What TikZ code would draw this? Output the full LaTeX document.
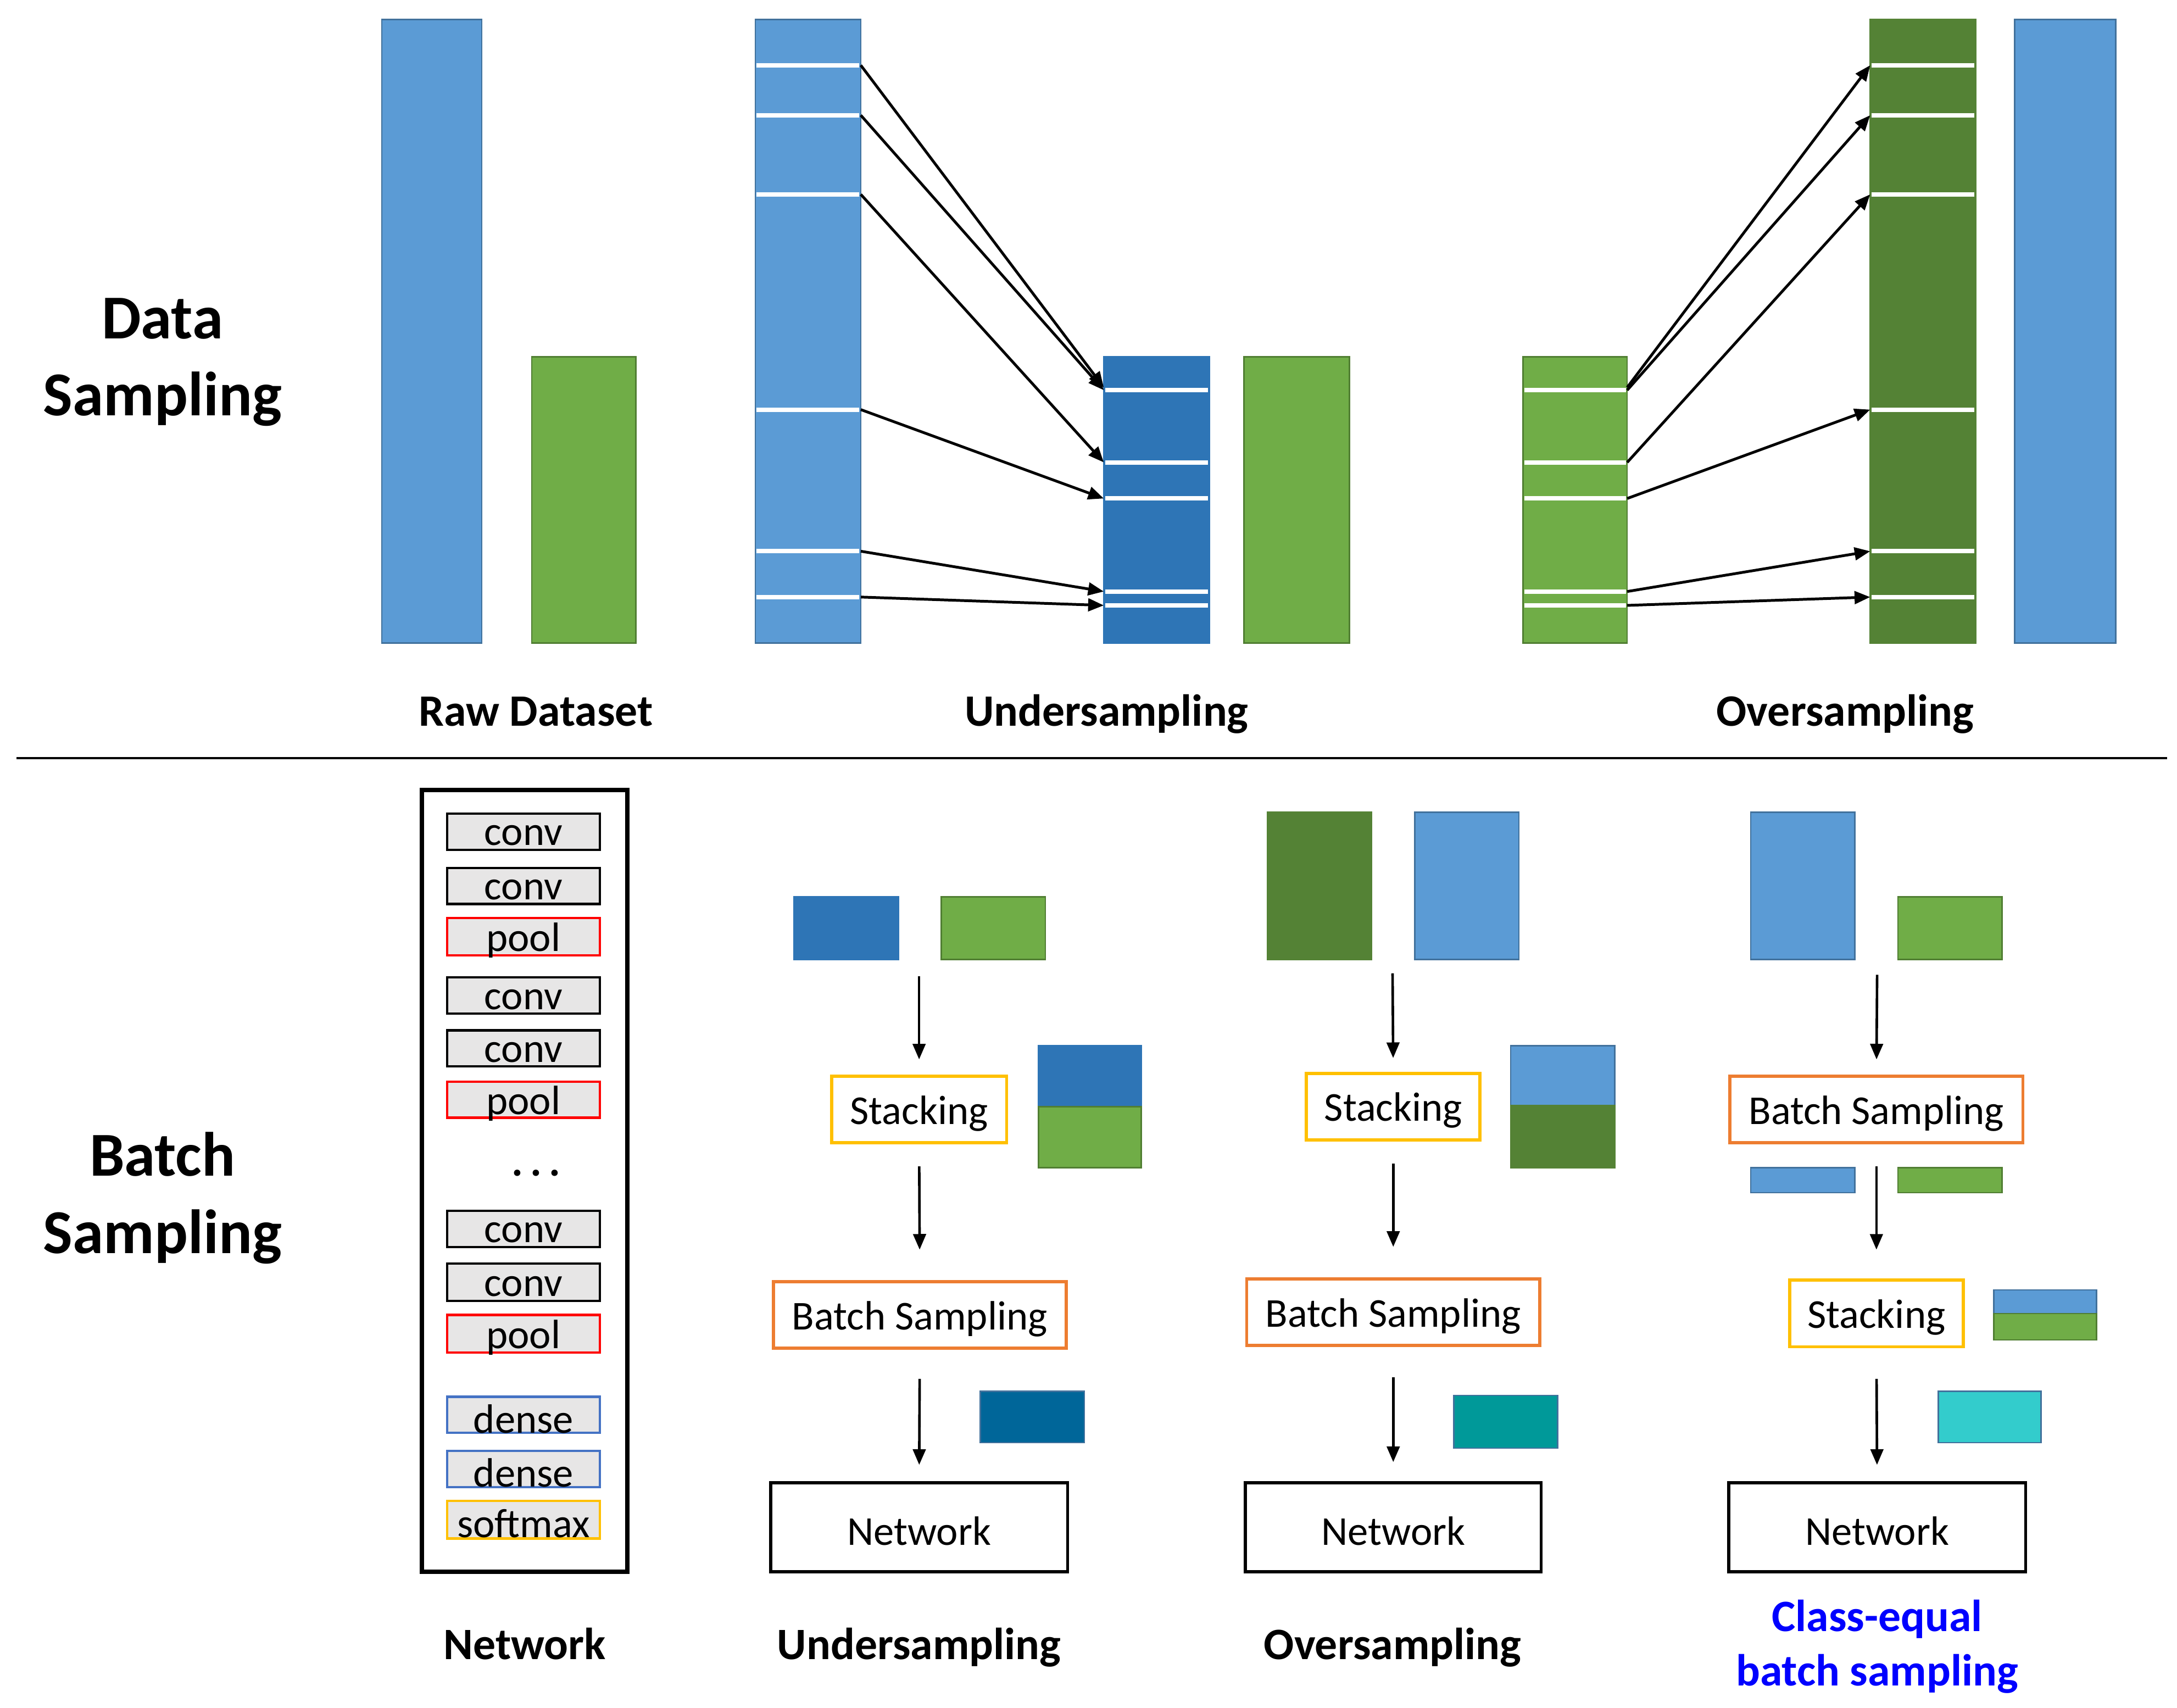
\documentclass[tikz,border=0pt]{standalone}
\usepackage{fontspec}
\setmainfont{Carlito}
\usetikzlibrary{arrows.meta,fit}
\definecolor{lblue}{HTML}{5B9BD5}
\definecolor{lblueb}{HTML}{41719C}
\definecolor{dblue}{HTML}{2E75B6}
\definecolor{lgreen}{HTML}{70AD47}
\definecolor{lgreenb}{HTML}{507E32}
\definecolor{dgreen}{HTML}{548235}
\definecolor{resA}{HTML}{006699}
\definecolor{resB}{HTML}{009999}
\definecolor{resC}{HTML}{33CCCC}
\definecolor{lgray}{HTML}{E7E6E6}
\definecolor{orangec}{HTML}{ED7D31}
\definecolor{yellowc}{HTML}{FFC000}
\definecolor{redc}{HTML}{FF0000}
\definecolor{denseb}{HTML}{4472C4}
\definecolor{titleblue}{HTML}{0000FF}
\begin{document}
\begin{tikzpicture}[x=0.025cm,y=-0.025cm,
  rbox/.style={inner sep=0pt, outer sep=0pt, line width=0.75pt},
  ctext/.style={label={[inner sep=0pt, yshift=-0.07cm, font=\fontsize{21}{24}\selectfont]center:#1}},
  arr/.style={-{Triangle[length=8pt,width=6.5pt]}, line width=1.4pt, black},
  varr/.style={-{Triangle[length=8pt,width=6.5pt]}, line width=1.3pt, black},
  wline/.style={white, line width=2.2pt},
  layer/.style={rbox, fill=lgray, line width=1.2pt},
  procbox/.style={rbox, line width=1.6pt, fill=white},
  lbl/.style={anchor=base, inner sep=0pt, font=\bfseries\fontsize{23}{27}\selectfont},
  side/.style={anchor=base, inner sep=0pt, font=\bfseries\fontsize{32}{38}\selectfont}]
\useasboundingbox[fill=white] (0,0) rectangle (1568,1230);

% ---------- side titles ----------
\node[side] (ds1) at (117,244) {Data};
\node[side] (ds2) at (117,299.5) {Sampling};
\node[side] (bs1) at (117,847) {Batch};
\node[side] (bs2) at (117,902.5) {Sampling};

% ---------- top: bars ----------
\node[rbox, fit={(275,14)(347,463)}, fill=lblue, draw=lblueb] (rawB) {};
\node[rbox, fit={(383,257)(458,463)}, fill=lgreen, draw=lgreenb] (rawG) {};
\node[rbox, fit={(544,14)(620,463)}, fill=lblue, draw=lblueb] (uB) {};
\node[rbox, fit={(795,257)(871,463)}, fill=dblue, draw=dblue] (uS) {};
\node[rbox, fit={(896,257)(972,463)}, fill=lgreen, draw=lgreenb] (uG) {};
\node[rbox, fit={(1097,257)(1172,463)}, fill=lgreen, draw=lgreenb] (oG) {};
\node[rbox, fit={(1347,14)(1423,463)}, fill=dgreen, draw=dgreen] (oS) {};
\node[rbox, fit={(1451,14)(1524,463)}, fill=lblue, draw=lblueb] (oB) {};

% white separator lines
\foreach \y in {47,83,140,295,397,430} {
  \draw[wline] (545,\y) -- (619,\y);
  \draw[wline] (1348,\y) -- (1422,\y);
}
\foreach \y in {281,333,359,426,436} {
  \draw[wline] (796,\y) -- (870,\y);
  \draw[wline] (1098,\y) -- (1171,\y);
}

% arrow end points
\foreach \y [count=\i] in {47,83,140,295,397,430} {
  \coordinate (ua\i) at (620,\y);
  \coordinate (ob\i) at (1347,\y);
}
\foreach \y [count=\i] in {279,281,333,359,426,436} {
  \coordinate (ub\i) at (795,\y);
  \coordinate (oa\i) at (1172,\y);
}
\foreach \i in {1,...,6} {
  \draw[arr] (ua\i) -- (ub\i);
  \draw[arr] (oa\i) -- (ob\i);
}

% top labels
\node[lbl] (tl1) at (386,523) {Raw Dataset};
\node[lbl] (tl2) at (797,523) {Undersampling};
\node[lbl] (tl3) at (1329,523) {Oversampling};

% separator
\draw[line width=1pt] (12,546) coordinate (sepL) -- (1561,546) coordinate (sepR);

% ---------- bottom: network ----------
\node[rbox, fit={(304,569)(452,1132)}, draw=black, line width=2.2pt] (net) {};
\node[layer, draw=black, fit={(322,586)(432,612)}, ctext=conv] (l1) {};
\node[layer, draw=black, fit={(322,625)(432,651)}, ctext=conv] (l2) {};
\node[layer, draw=redc, fit={(322,661)(432,688)}, ctext=pool] (l3) {};
\node[layer, draw=black, fit={(322,704)(432,730)}, ctext=conv] (l4) {};
\node[layer, draw=black, fit={(322,742)(432,768)}, ctext=conv] (l5) {};
\node[layer, draw=redc, fit={(322,779)(432,805)}, ctext=pool] (l6) {};
\node[font=\bfseries\fontsize{22}{24}\selectfont, inner sep=0pt] (dots) at (386,845) {.\,.\,.};
\node[layer, draw=black, fit={(322,872)(432,898)}, ctext=conv] (l7) {};
\node[layer, draw=black, fit={(322,910)(432,937)}, ctext=conv] (l8) {};
\node[layer, draw=redc, fit={(322,947)(432,974)}, ctext=pool] (l9) {};
\node[layer, draw=denseb, fit={(322,1006)(432,1032)}, ctext=dense] (l10) {};
\node[layer, draw=denseb, fit={(322,1045)(432,1071)}, ctext=dense] (l11) {};
\node[layer, draw=yellowc, fit={(322,1081)(432,1108)}, ctext=softmax] (l12) {};

% ---------- undersampling column ----------
\node[rbox, fit={(572,646)(647,691)}, fill=dblue, draw=dblue] (u1) {};
\node[rbox, fit={(678,646)(753,691)}, fill=lgreen, draw=lgreenb] (u2) {};
\coordinate (utop) at (662,703);
\node[procbox, draw=yellowc, fit={(599,775)(725,823)}, ctext=Stacking] (ust) {};
\node[rbox, fit={(748,753)(822,797)}, fill=dblue, draw=dblue] (us1) {};
\node[rbox, fit={(748,797)(822,841)}, fill=lgreen, draw=lgreenb] (us2) {};
\node[procbox, draw=orangec, fit={(557,923)(768,971)}, ctext=Batch Sampling] (ubs) {};
\node[rbox, fit={(706,1002)(781,1039)}, fill=resA, draw=lblueb] (ur) {};
\node[procbox, draw=black, fit={(555,1068)(769,1132)}, ctext=Network] (unet) {};
\draw[varr, shorten >=0.3cm] (utop) -- (ust.north);
\draw[varr, shorten <=0.425cm, shorten >=0.575cm] (ust.south) -- (ubs.north);
\draw[varr, shorten <=0.55cm, shorten >=0.325cm] (ubs.south) -- (unet.north);

% ---------- oversampling column ----------
\node[rbox, fit={(913,585)(988,691)}, fill=dgreen, draw=dgreen] (o1) {};
\node[rbox, fit={(1019,585)(1094,691)}, fill=lblue, draw=lblueb] (o2) {};
\coordinate (otop) at (1003,701);
\node[procbox, draw=yellowc, fit={(941,773)(1066,821)}, ctext=Stacking] (ost) {};
\node[rbox, fit={(1088,753)(1163,796)}, fill=lblue, draw=lblueb] (os1) {};
\node[rbox, fit={(1088,796)(1163,841)}, fill=dgreen, draw=dgreen] (os2) {};
\node[procbox, draw=orangec, fit={(898,921)(1109,969)}, ctext=Batch Sampling] (obs) {};
\node[rbox, fit={(1047,1005)(1122,1043)}, fill=resB, draw=lblueb] (or) {};
\node[procbox, draw=black, fit={(897,1068)(1110,1132)}, ctext=Network] (onet) {};
\draw[varr, shorten >=0.275cm] (otop) -- (ost.north);
\draw[varr, shorten <=0.425cm, shorten >=0.575cm] (ost.south) -- (obs.north);
\draw[varr, shorten <=0.575cm, shorten >=0.375cm] (obs.south) -- (onet.north);

% ---------- class-equal column ----------
\node[rbox, fit={(1261,585)(1336,691)}, fill=lblue, draw=lblueb] (c1) {};
\node[rbox, fit={(1367,646)(1442,691)}, fill=lgreen, draw=lgreenb] (c2) {};
\coordinate (ctop) at (1352,702);
\node[procbox, draw=orangec, fit={(1246,775)(1457,823)}, ctext=Batch Sampling] (cbs) {};
\node[rbox, fit={(1261,841)(1336,859)}, fill=lblue, draw=lblueb] (cb1) {};
\node[rbox, fit={(1367,841)(1442,859)}, fill=lgreen, draw=lgreenb] (cb2) {};
\node[procbox, draw=yellowc, fit={(1289,922)(1414,970)}, ctext=Stacking] (cst) {};
\node[rbox, fit={(1436,929)(1510,946)}, fill=lblue, draw=lblueb] (cs1) {};
\node[rbox, fit={(1436,946)(1510,965)}, fill=lgreen, draw=lgreenb] (cs2) {};
\node[rbox, fit={(1396,1002)(1470,1039)}, fill=resC, draw=lblueb] (cr) {};
\node[procbox, draw=black, fit={(1245,1068)(1459,1132)}, ctext=Network] (cnet) {};
\draw[varr, shorten >=0.3cm] (ctop) -- (cbs.north);
\draw[varr, shorten <=0.425cm, shorten >=0.55cm] (cbs.south) -- (cst.north);
\draw[varr, shorten <=0.575cm, shorten >=0.325cm] (cst.south) -- (cnet.north);

% bottom labels
\node[lbl] (bl1) at (378,1195) {Network};
\node[lbl] (bl2) at (662,1195) {Undersampling};
\node[lbl] (bl3) at (1003,1195) {Oversampling};
\node[lbl, text=titleblue] (bl4a) at (1352,1175) {Class-equal};
\node[lbl, text=titleblue] (bl4b) at (1352,1214) {batch sampling};
\end{tikzpicture}
\end{document}
